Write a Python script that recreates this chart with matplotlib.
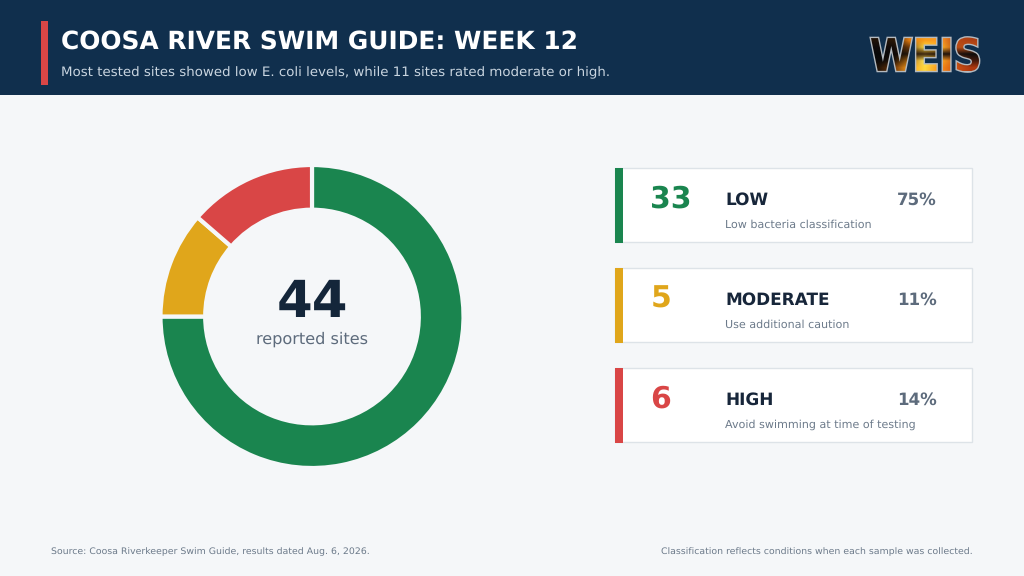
import matplotlib
matplotlib.use('Agg')
import matplotlib.pyplot as plt
import numpy as np
from matplotlib.patches import Rectangle, PathPatch
from matplotlib.textpath import TextPath
from matplotlib.font_manager import FontProperties
from matplotlib.transforms import Affine2D

levels = ['LOW', 'MODERATE', 'HIGH']
counts = [33, 5, 6]
percents = ['75%', '11%', '14%']
notes = ['Low bacteria classification', 'Use additional caution', 'Avoid swimming at time of testing']
colors = ['#1a854f', '#e0a61b', '#d94646']
total = 44

title = 'COOSA RIVER SWIM GUIDE: WEEK 12'
subtitle = 'Most tested sites showed low E. coli levels, while 11 sites rated moderate or high.'
source = 'Source: Coosa Riverkeeper Swim Guide, results dated Aug. 6, 2026.'
footnote = 'Classification reflects conditions when each sample was collected.'

plt.rcParams['text.hinting'] = 'none'

fig = plt.figure(figsize=(10.24, 5.76), dpi=100, facecolor='#f5f7f9')

# whole figure in pixel coordinates, y going down
ax = fig.add_axes([0, 0, 1, 1])
ax.set_xlim(0, 1024)
ax.set_ylim(576, 0)
ax.axis('off')

ax.add_patch(Rectangle((0, 0), 1024, 95, fc='#102f4d', ec='none'))
ax.add_patch(Rectangle((41, 21), 7, 64, fc='#d94646', ec='none'))
ax.text(61, 42, title, color='white', fontsize=17.9, fontweight='bold', va='center')
ax.text(61, 72.5, subtitle, color='#c9d5e0', fontsize=9.6, va='center')

# cards
for i, top in enumerate([168, 268, 368]):
    ax.add_patch(Rectangle((615, top), 357, 74, fc='white', ec='#dde3e8', lw=1))
    ax.add_patch(Rectangle((615, top), 8, 74.5, fc=colors[i], ec='none'))
    ax.text(650.5, top + 31.5, str(counts[i]), color=colors[i], fontsize=21.5, fontweight='bold', va='center')
    ax.text(725.5, top + 32, levels[i], color='#17263a', fontsize=12.2, fontweight='bold', va='center')
    ax.text(937, top + 32, percents[i], color='#5d6b7c', fontsize=12, fontweight='bold', va='center', ha='right')
    ax.text(725, top + 56.5, notes[i], color='#6c7a8a', fontsize=8, va='center')

ax.text(51, 551.5, source, color='#6c7a8a', fontsize=6.75, va='center')
ax.text(972.5, 551.5, footnote, color='#6c7a8a', fontsize=6.75, va='center', ha='right')

# logo: letters filled with a sunset strip, clipped to the text outline
logo_colors = np.array([
    [[0.12, 0.07, 0.03], [0.16, 0.09, 0.03], [0.88, 0.48, 0.06], [0.98, 0.62, 0.10], [1.00, 0.60, 0.14], [0.72, 0.28, 0.08], [0.68, 0.25, 0.08]],
    [[0.06, 0.04, 0.04], [0.08, 0.05, 0.04], [0.42, 0.22, 0.04], [1.00, 0.85, 0.25], [1.00, 0.70, 0.14], [0.72, 0.30, 0.08], [0.75, 0.32, 0.10]],
    [[0.03, 0.03, 0.03], [0.05, 0.03, 0.03], [0.14, 0.09, 0.04], [0.25, 0.16, 0.06], [0.12, 0.08, 0.04], [0.14, 0.07, 0.05], [0.06, 0.05, 0.05]],
    [[0.05, 0.04, 0.04], [0.12, 0.07, 0.03], [0.68, 0.40, 0.05], [1.00, 0.90, 0.35], [1.00, 0.66, 0.12], [0.80, 0.35, 0.08], [0.28, 0.10, 0.05]],
    [[0.14, 0.08, 0.03], [0.45, 0.22, 0.04], [0.98, 0.62, 0.10], [1.00, 0.85, 0.25], [0.98, 0.55, 0.08], [0.80, 0.32, 0.08], [0.68, 0.22, 0.06]],
])
logo = TextPath((0, 0), 'WEIS', size=36, prop=FontProperties(family='DejaVu Sans', weight='bold'))
box = logo.get_extents()
sx = 108 / box.width
sy = -34 / box.height
logo_tf = Affine2D().translate(-box.x0, -box.y0).scale(sx, sy).translate(871, 71.5) + ax.transData
ax.add_patch(PathPatch(logo, fc='none', ec='#b4bac0', lw=2.0, transform=logo_tf, zorder=3))
im = ax.imshow(logo_colors, extent=(871, 979, 71.5, 37.5), interpolation='bilinear', aspect='auto', zorder=5)
im.set_clip_path(logo, logo_tf)
ax.set_xlim(0, 1024)
ax.set_ylim(576, 0)

# donut
r_px = 151.5
cx, cy = 312, 316.5
dax = fig.add_axes([(cx - r_px) / 1024, 1 - (cy + r_px) / 576, 2 * r_px / 1024, 2 * r_px / 576])
dax.pie(counts, colors=colors, startangle=90, counterclock=False, radius=1,
        wedgeprops=dict(width=0.295, edgecolor='#f5f7f9', linewidth=3))
dax.set_xlim(-1, 1)
dax.set_ylim(-1, 1)
dax.text(0, 0.09, str(total), color='#14263a', fontsize=37, fontweight='bold', ha='center', va='center')
dax.text(0, -0.15, 'reported sites', color='#5d6b7c', fontsize=11.6, ha='center', va='center')

fig.savefig('out.png', dpi=100)
